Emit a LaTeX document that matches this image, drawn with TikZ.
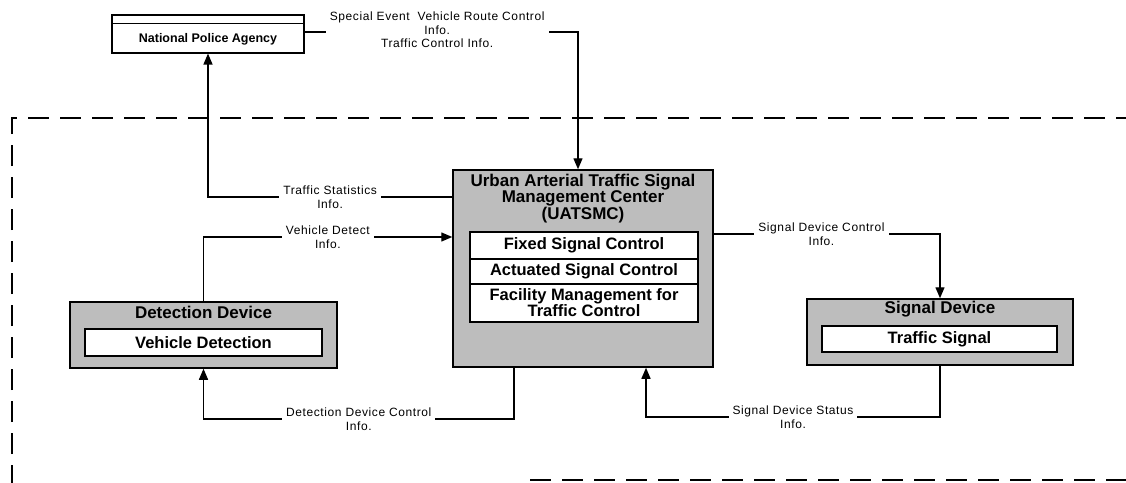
\documentclass[tikz,border=0pt]{standalone}
\usepackage{fontspec}
\setmainfont{Liberation Sans}
\usetikzlibrary{arrows.meta}
\tikzset{
  conn/.style={line width=1.4pt, -{Triangle[length=11pt,width=9pt]}},
  lbl/.style={fill=white, inner xsep=4pt, inner ysep=1pt, align=center,
    font=\fontsize{12}{13.5}\selectfont\addfontfeature{LetterSpace=5}},
  shade/.style={draw=black, line width=1.5pt, fill=black!26, inner sep=0pt},
  inbox/.style={draw=black, line width=1.1pt, fill=white, inner sep=0pt,
    font=\bfseries\fontsize{16.5}{16}\selectfont, align=center},
  ttl/.style={inner sep=0pt, align=center, font=\bfseries\fontsize{17}{15.5}\selectfont},
  npabox/.style={draw=black, line width=1.1pt, fill=white, inner sep=0pt},
  npatxt/.style={inner sep=0pt, font=\bfseries\fontsize{12.5}{14}\selectfont},
  border/.style={line width=2.4pt, dash pattern=on 21pt off 11pt}
}
\begin{document}
\begin{tikzpicture}[x=1pt,y=-1pt]
\useasboundingbox (0,0) rectangle (1126,482);
% helper coordinates
\coordinate (r32) at (0,32);
\coordinate (r197) at (0,197);
\coordinate (r237) at (0,237);
\coordinate (r234) at (0,234);
\coordinate (r419) at (0,419);
\coordinate (r417) at (0,417);
\coordinate (c578) at (578,0);
\coordinate (c514) at (514,0);
\coordinate (c646) at (646,0);
% system boundary
\coordinate (bTL) at (12,118);
\coordinate (bTR) at (1130,118);
\coordinate (bBL) at (12,486);
\coordinate (bBs) at (530,480);
\coordinate (bBe) at (1130,480);
\draw[border] (bBL) -- (bTL) -- (bTR);
\draw[border] (bBs) -- (bBe);
% National Police Agency
\node[npabox, minimum width=192pt, minimum height=38pt,
  label={[npatxt, yshift=-5pt]center:National Police Agency}] (npa) at (208,34) {};
\draw[line width=1pt] ([yshift=-9pt]npa.north west) -- ([yshift=-9pt]npa.north east);
% UATSMC
\node[shade, minimum width=260pt, minimum height=197pt] (uatsmc) at (583,268.5) {};
\node[ttl] (uttl) at (583,198.5) {Urban Arterial Traffic Signal\\Management Center\\(UATSMC)};
\node[inbox, minimum width=228pt, minimum height=27pt] (fixed) at (584,245.5) {Fixed Signal Control};
\node[inbox, minimum width=228pt, minimum height=25pt] (act) at (584,271.5) {Actuated Signal Control};
\node[inbox, minimum width=228pt, minimum height=38pt] (fac) at (584,303) {Facility Management for\\Traffic Control};
% Detection Device
\node[shade, minimum width=267pt, minimum height=66pt] (det) at (203.5,335) {};
\node[ttl] (dttl) at (203.5,312) {Detection Device};
\node[inbox, minimum width=237pt, minimum height=27pt] (vdet) at (203.5,342.5) {Vehicle Detection};
% Signal Device
\node[shade, minimum width=266pt, minimum height=66pt] (sig) at (940,332) {};
\node[ttl] (sttl) at (940,309) {Signal Device};
\node[inbox, minimum width=235pt, minimum height=26pt] (tsig) at (939.5,339) {Traffic Signal};
% connectors
\draw[conn] (npa.east |- r32) -- node[lbl, pos=0.485, yshift=2pt] {Special Event\ \ Vehicle Route Control\\Info.\\Traffic Control Info.} (c578 |- r32) -- (uatsmc.north -| c578);
\draw[conn] (uatsmc.west |- r197) -- node[lbl] {Traffic Statistics\\Info.} (npa.south |- r197) -- (npa.south);
\draw[conn] (det.north) -- (det.north |- r237) -- node[lbl] {Vehicle Detect\\Info.} (uatsmc.west |- r237);
\draw[conn] (uatsmc.south -| c514) -- (c514 |- r419) -- node[lbl] {Detection Device Control\\Info.} (det.south |- r419) -- (det.south);
\draw[conn] (uatsmc.east |- r234) -- node[lbl, pos=0.476] {Signal Device Control\\Info.} (sig.north |- r234) -- (sig.north);
\draw[conn] (sig.south) -- (sig.south |- r417) -- node[lbl] {Signal Device Status\\Info.} (c646 |- r417) -- (uatsmc.south -| c646);
\end{tikzpicture}
\end{document}
